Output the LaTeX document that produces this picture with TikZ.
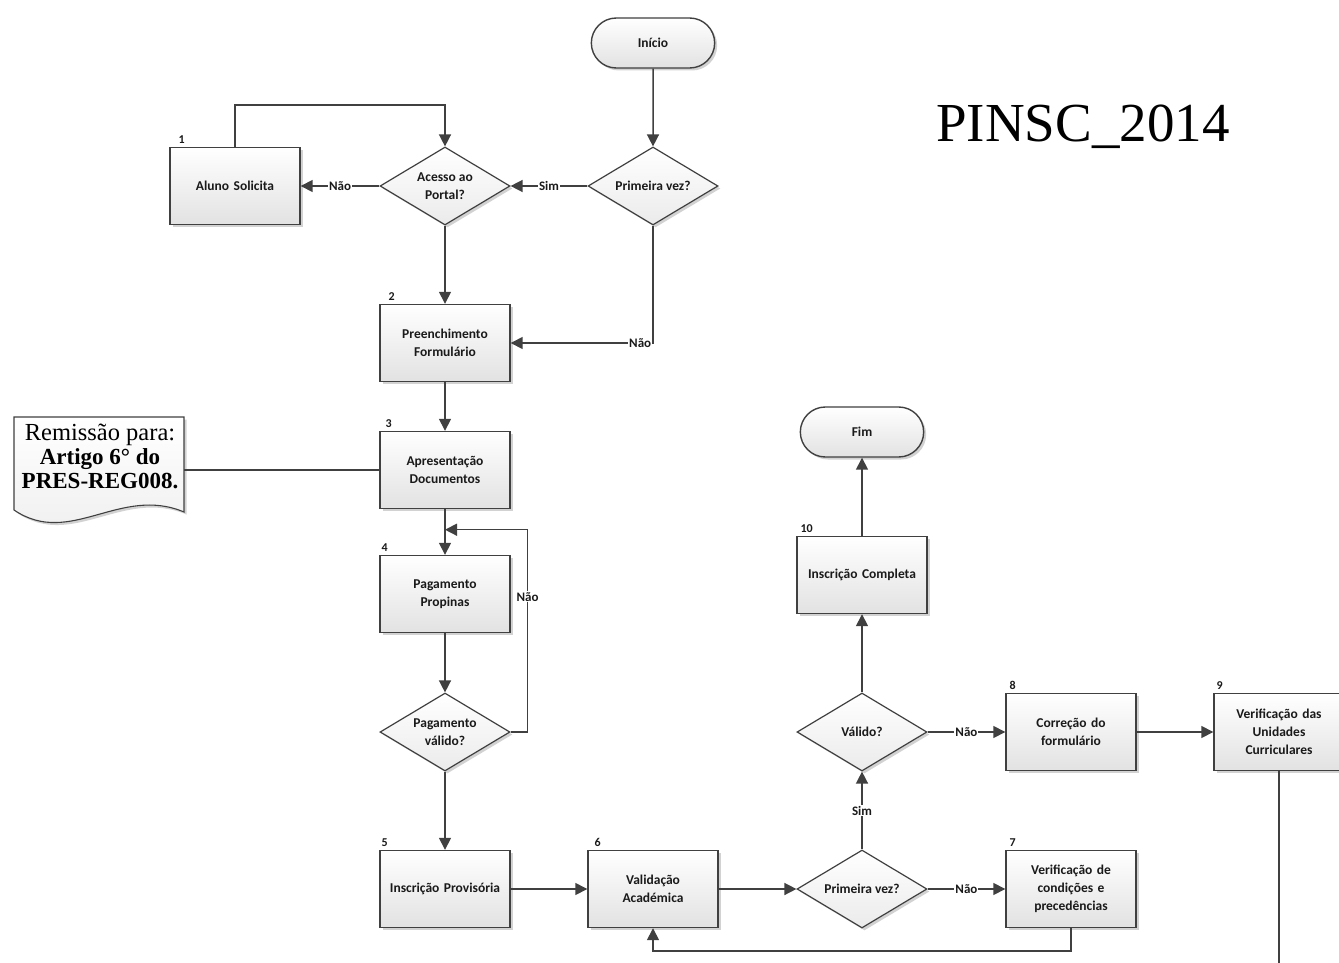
\documentclass[tikz,border=0pt]{standalone}
\usepackage{fontspec}
\setmainfont{Carlito}
\newfontfamily\titleface{Liberation Serif}
\usetikzlibrary{shapes.geometric,shapes.misc,arrows.meta,shadows,calc}

\definecolor{linec}{HTML}{404040}
\definecolor{boxbot}{HTML}{E2E2E2}
\definecolor{txt}{HTML}{1A1A1A}

\tikzset{
  shade/.style={drop shadow={shadow xshift=2.5pt,shadow yshift=-2.5pt,fill=black!35,opacity=0.5}},
  proc/.style={rectangle, draw=linec, line width=1.4pt, top color=white, bottom color=boxbot,
    minimum width=130pt, minimum height=77pt, align=center, text width=124pt, inner sep=2pt,
    font=\bfseries\fontsize{13.5}{18}\selectfont, text=txt, shade},
  decision/.style={diamond, draw=linec, line width=1.2pt, top color=white, bottom color=boxbot!70,
    minimum width=130pt, minimum height=78pt, aspect=1.67, inner sep=0pt, align=center,
    font=\bfseries\fontsize{13.5}{18}\selectfont, text=txt, shade},
  terminal/.style={rounded rectangle, draw=linec, line width=1.4pt, top color=white, bottom color=boxbot,
    minimum width=130pt, minimum height=50pt, font=\bfseries\fontsize{13.5}{15}\selectfont, text=txt, shade},
  num/.style={font=\bfseries\fontsize{12}{13}\selectfont, text=txt, inner sep=0pt, anchor=south west},
  conn/.style={draw=linec, line width=1.5pt},
  arr/.style={conn, -{Triangle[length=12pt,width=12pt]}},
  lbl/.style={fill=white, inner sep=1pt, font=\bfseries\fontsize{13}{14}\selectfont, text=txt},
}

\begin{document}
\begin{tikzpicture}[x=1pt,y=-1pt]
\path[use as bounding box, clip] (0,0) rectangle (1339,963);
\fill[white] (0,0) rectangle (1339,963);

% title
\node[font=\titleface\fontsize{55}{60}\selectfont, text=black] (title) at (1083,127) {PINSC\_2014};

% first column and start
\node[terminal] (inicio) at (653,43) {Início};
\node[decision] (pv1) at (653,186) {Primeira vez?};
\node[decision] (acesso) at (445,186) {Acesso ao\\Portal?};
\node[proc] (aluno) at (235,186) {Aluno Solicita};
\node[proc] (preench) at (445,343) {Preenchimento\\Formulário};
\node[proc] (apres) at (445,470) {Apresentação\\Documentos};
\node[proc] (pagprop) at (445,594) {Pagamento\\Propinas};
\node[decision] (pagval) at (445,732) {Pagamento\\válido?};
\node[proc] (insprov) at (445,889) {Inscrição Provisória};

% bottom row and right part
\node[proc] (valacad) at (653,889) {Validação\\Académica};
\node[decision] (pv2) at (862,889) {Primeira vez?};
\node[proc] (verif7) at (1071,889) {Verificação de\\condições e\\precedências};
\node[decision] (valido) at (862,732) {Válido?};
\node[proc] (corr) at (1071,732) {Correção do\\formulário};
\node[proc] (verifuc) at (1279,732) {Verificação das\\Unidades\\Curriculares};
\node[proc] (inscomp) at (862,575) {Inscrição Completa};
\node[terminal] (fim) at (862,432) {Fim};

% step numbers
\node[num] (n1) at ([xshift=9pt,yshift=3pt]aluno.north west) {1};
\node[num] (n2) at ([xshift=9pt,yshift=3pt]preench.north west) {2};
\node[num] (n3) at ([xshift=6pt,yshift=3pt]apres.north west) {3};
\node[num] (n4) at ([xshift=2pt,yshift=3pt]pagprop.north west) {4};
\node[num] (n5) at ([xshift=2pt,yshift=3pt]insprov.north west) {5};
\node[num] (n6) at ([xshift=7pt,yshift=3pt]valacad.north west) {6};
\node[num] (n7) at ([xshift=4pt,yshift=3pt]verif7.north west) {7};
\node[num] (n8) at ([xshift=4pt,yshift=3pt]corr.north west) {8};
\node[num] (n9) at ([xshift=3pt,yshift=3pt]verifuc.north west) {9};
\node[num] (n10) at ([xshift=4pt,yshift=3pt]inscomp.north west) {10};

% reference document
\path[draw=linec, line width=1.1pt, top color=white, bottom color=boxbot!60, shade]
  (14,417) -- (184,417) -- (184,512)
  .. controls (120,485) and (70,548) .. (14,510) -- cycle;
\coordinate (doc) at (184,470);
\node[font=\titleface\fontsize{23}{24}\selectfont, align=center, text=black] (remiss) at (100,456)
  {\fontsize{24.5}{24}\selectfont Remissão para:\\\textbf{Artigo 6° do}\\\textbf{PRES-REG008.}};

% connectors
\draw[arr] (inicio) -- (pv1);
\draw[arr] (pv1.west) -- node[lbl] {Sim} (acesso.east);
\draw[arr] (acesso.west) -- node[lbl] {Não} (aluno.east);
\draw[arr] (aluno.north) -- ++(0,-42) -| (acesso.north);
\draw[arr] (acesso.south) -- (preench.north);
\draw[arr] (pv1.south) |- node[lbl, pos=0.545] {Não} (preench.east);
\draw[arr] (preench) -- (apres);
\draw[conn] (doc) -- (apres.west);
\draw[arr] (apres) -- (pagprop);
\draw[arr] (pagprop) -- (pagval);
\coordinate (loopin) at ($(apres.south)!0.45!(pagprop.north)$);
\draw[arr] (pagval.east) -- ++(17,0) |- node[lbl, pos=0.334] {Não} (loopin);
\draw[arr] (pagval) -- (insprov);
\draw[arr] (insprov) -- (valacad);
\draw[arr] (valacad) -- (pv2);
\draw[arr] (pv2.east) -- node[lbl] {Não} (verif7.west);
\draw[arr] (verif7.south) -- ++(0,23) -| (valacad.south);
\draw[arr] (pv2.north) -- node[lbl] {Sim} (valido.south);
\draw[arr] (valido.east) -- node[lbl] {Não} (corr.west);
\draw[arr] (corr) -- (verifuc);
\coordinate (ucend) at (verifuc.south |- 0,970);
\draw[conn] (verifuc.south) -- (ucend);
\draw[arr] (valido.north) -- (inscomp.south);
\draw[arr] (inscomp.north) -- (fim.south);
\end{tikzpicture}
\end{document}
